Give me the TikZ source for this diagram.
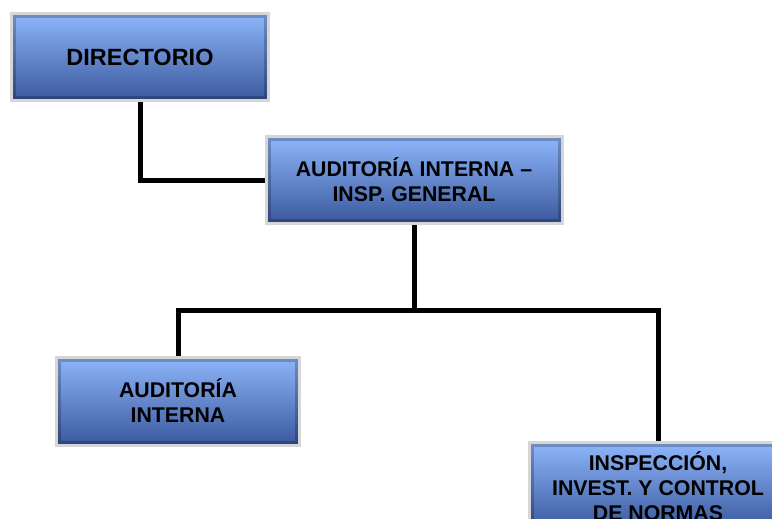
\documentclass[tikz,border=0pt]{standalone}
\usepackage{fontspec}
\setmainfont{Liberation Sans}
\usetikzlibrary{positioning, calc}

\definecolor{boxtop}{RGB}{142,182,250}
\definecolor{boxbot}{RGB}{58,88,158}
\definecolor{boxrim}{RGB}{214,214,214}

\begin{document}
\begin{tikzpicture}[
    x=1pt, y=-1pt,
    unit/.style={rectangle, draw=boxrim, line width=3pt, top color=boxtop, bottom color=boxbot,
      align=center, inner sep=4pt, font=\bfseries\fontsize{21.3}{25}\selectfont,
      path picture={\draw[line width=9pt, black, opacity=0.22]
        (path picture bounding box.south west) rectangle (path picture bounding box.north east);}},
    link/.style={line width=5pt, black}
  ]
    \useasboundingbox (0,0) rectangle (772,519);
    \node[unit, minimum width=257pt, minimum height=87pt, font=\bfseries\fontsize{23.5}{27}\selectfont] (dir) at (140,57) {DIRECTORIO};
    \node[unit, minimum width=296pt, minimum height=87pt] (aig) at (414,180) {AUDITOR\'IA INTERNA --\\INSP. GENERAL};
    \node[unit, minimum width=243pt, minimum height=88pt] (ai) at (178,401) {AUDITOR\'IA\\INTERNA};
    \node[unit, minimum width=257pt, minimum height=87pt] (ins) at (658,486) {INSPECCI\'ON,\\INVEST. Y CONTROL\\DE NORMAS};
    \coordinate (bus) at (414,310);
    \draw[link] (dir.south) |- (aig.west);
    \draw[link] (aig.south) -- (bus);
    \draw[link] (ai.north) |- (bus) -| (ins.north);
  \end{tikzpicture}
\end{document}
